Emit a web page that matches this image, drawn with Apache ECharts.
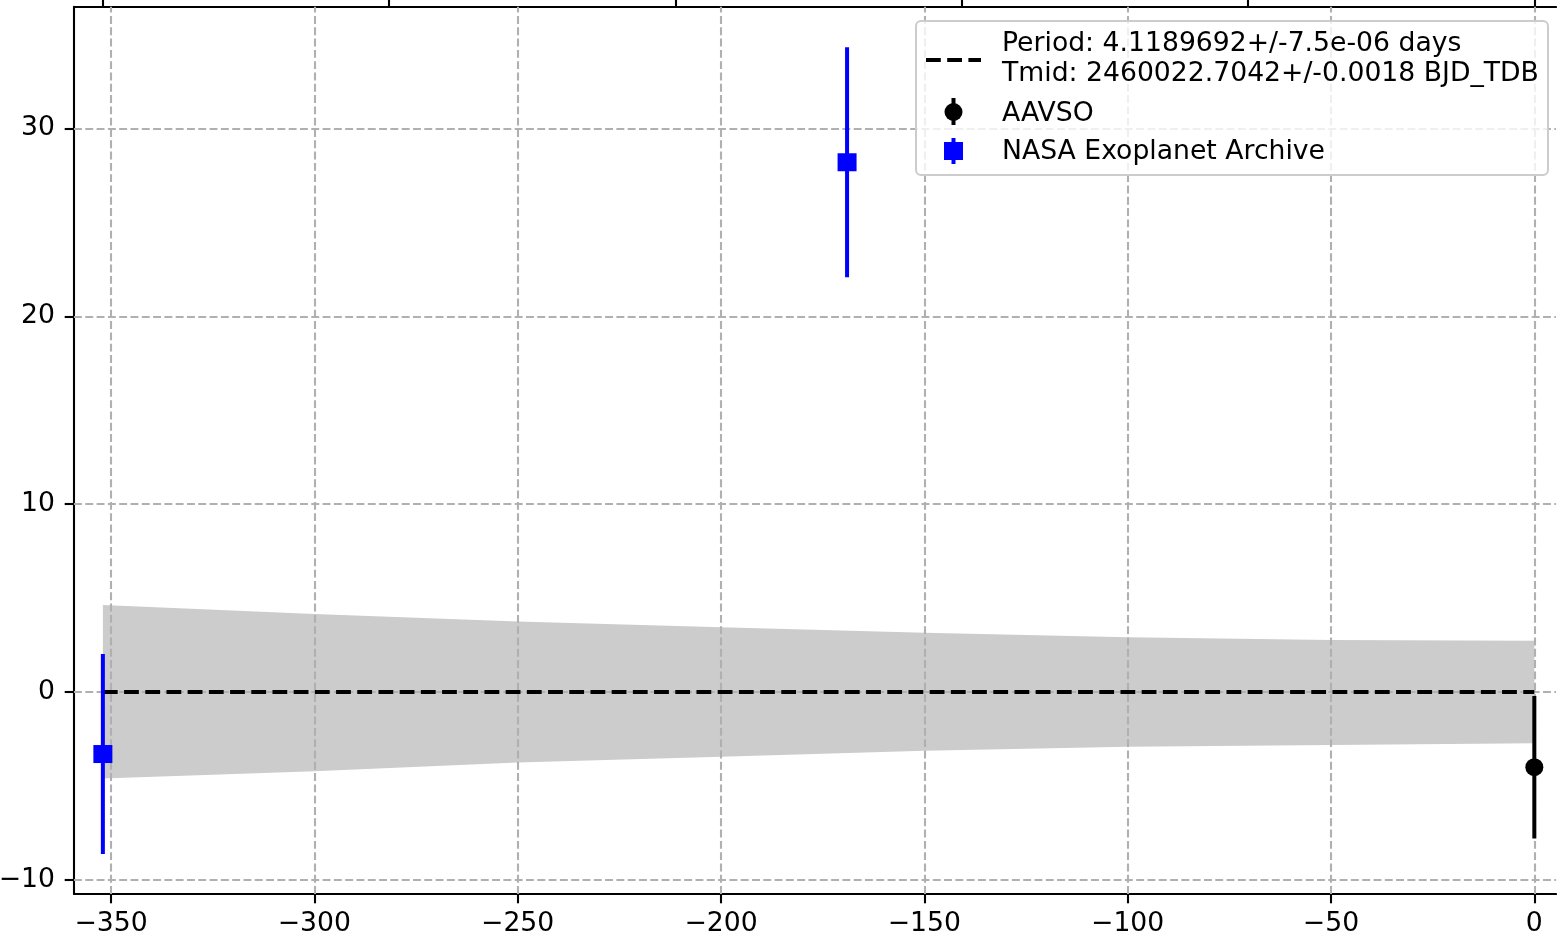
<!DOCTYPE html>
<html>
<head>
<meta charset="utf-8">
<script src="https://cdn.jsdelivr.net/npm/echarts@6/dist/echarts.min.js"></script>
<style>
html,body{margin:0;padding:0;background:#fff;}
#chart{width:1557px;height:944px;}
</style>
</head>
<body>
<div id="chart"></div>
<script>
// ---- data ----
const xTicks = [-350, -300, -250, -200, -150, -100, -50, 0];
const yTicks = [-10, 0, 10, 20, 30];
const topTicks = [-352, -281.6, -211.2, -140.8, -70.4, 0];

const bandEpochs = [-352, -300, -250, -200, -150, -100, -50, 0];
const bandUpper  = [4.63, 4.16, 3.75, 3.45, 3.16, 2.91, 2.77, 2.73];
const bandLower  = [-4.60, -4.21, -3.75, -3.45, -3.13, -2.91, -2.82, -2.73];

const modelEpochs = [-352, 0];
const modelValues = [0, 0];

const aavsoEpoch = [0];
const aavsoOC    = [-4.0];
const aavsoErr   = [3.79];

const nasaEpoch = [-352, -169];
const nasaOC    = [-3.30, 28.2];
const nasaErr   = [5.32, 6.12];

const legendLines = [
  'Period: 4.1189692+/-7.5e-06 days',
  'Tmid: 2460022.7042+/-0.0018 BJD_TDB',
  'AAVSO',
  'NASA Exoplanet Archive'
];

// ---- chart ----
const FONT = '"DejaVu Sans", sans-serif';
const FS = 26.67;
const minus = v => String(v).replace('-', '\u2212');
const gridStyle = {color: '#b0b0b0', width: 2.1, type: [7.9, 3.4]};

function errorBar(color) {
  return function (params, api) {
    const x = api.value(0);
    const p1 = api.coord([x, api.value(1)]);
    const p2 = api.coord([x, api.value(2)]);
    return {
      type: 'line',
      shape: {x1: p1[0], y1: p1[1], x2: p2[0], y2: p2[1]},
      style: {stroke: color, lineWidth: 4}
    };
  };
}

const chart = echarts.init(document.getElementById('chart'), null, {renderer: 'canvas'});

const option = {
  animation: false,
  backgroundColor: '#ffffff',
  grid: {left: 74, right: 1, top: 6.7, bottom: 50, containLabel: false, outerBoundsMode: 'none'},
  xAxis: [
    {
      type: 'value', position: 'bottom', min: -359.1, max: 5.33,
      axisLine: {show: true, onZero: false, lineStyle: {color: '#000', width: 2.1}},
      axisTick: {show: true, customValues: xTicks, length: 9.3, lineStyle: {color: '#000', width: 2.1}},
      axisLabel: {show: true, customValues: xTicks, formatter: minus, fontSize: FS, fontFamily: FONT, color: '#000', margin: 17},
      splitLine: {show: false}
    },
    {
      type: 'value', position: 'top', min: -359.1, max: 5.33,
      axisLine: {show: true, onZero: false, lineStyle: {color: '#000', width: 2.1}},
      axisTick: {show: true, customValues: topTicks, length: 9.3, lineStyle: {color: '#000', width: 2.1}},
      axisLabel: {show: false},
      splitLine: {show: false}
    }
  ],
  yAxis: [
    {
      type: 'value', min: -10.75, max: 36.48,
      axisLine: {show: true, onZero: false, lineStyle: {color: '#000', width: 2.1}},
      axisTick: {show: true, customValues: yTicks, length: 9.3, lineStyle: {color: '#000', width: 2.1}},
      axisLabel: {show: true, customValues: yTicks, formatter: minus, fontSize: FS, fontFamily: FONT, color: '#000', margin: 19},
      splitLine: {show: false}
    }
  ],
  series: [
    {
      name: 'band', type: 'custom', z: 1, silent: true,
      data: bandEpochs.map((x, i) => [x, bandUpper[i], bandLower[i]]),
      encode: {x: 0, y: [1, 2]},
      renderItem: function (params, api) {
        if (params.dataIndex !== 0) return null;
        const up = bandEpochs.map((x, i) => api.coord([x, bandUpper[i]]));
        const lo = bandEpochs.map((x, i) => api.coord([x, bandLower[i]])).reverse();
        return {type: 'polygon', shape: {points: up.concat(lo)}, style: {fill: '#cccccc'}};
      }
    },
    {
      name: 'grid', type: 'line', z: 2, data: [], silent: true,
      markLine: {
        z: 2, silent: true, symbol: ['none', 'none'], animation: false,
        label: {show: false},
        lineStyle: gridStyle,
        emphasis: {disabled: true},
        data: xTicks.map(v => ({xAxis: v})).concat(yTicks.map(v => ({yAxis: v})))
      }
    },
    {
      name: 'model', type: 'line', z: 3, silent: true,
      data: modelEpochs.map((x, i) => [x, modelValues[i]]),
      showSymbol: false, symbol: 'none',
      lineStyle: {color: '#000', width: 4, type: [14.8, 6.4]}
    },
    {
      name: 'AAVSO err', type: 'custom', z: 4, silent: true,
      data: aavsoEpoch.map((x, i) => [x, aavsoOC[i] - aavsoErr[i], aavsoOC[i] + aavsoErr[i]]),
      encode: {x: 0, y: [1, 2]},
      renderItem: errorBar('#000000')
    },
    {
      name: 'NASA err', type: 'custom', z: 4, silent: true,
      data: nasaEpoch.map((x, i) => [x, nasaOC[i] - nasaErr[i], nasaOC[i] + nasaErr[i]]),
      encode: {x: 0, y: [1, 2]},
      renderItem: errorBar('#0000ff')
    },
    {
      name: 'AAVSO', type: 'scatter', z: 5, silent: true,
      data: aavsoEpoch.map((x, i) => [x, aavsoOC[i]]),
      symbol: 'circle', symbolSize: 18,
      itemStyle: {color: '#000000', opacity: 1}
    },
    {
      name: 'NASA Exoplanet Archive', type: 'scatter', z: 5, silent: true,
      data: nasaEpoch.map((x, i) => [x, nasaOC[i]]),
      symbol: 'rect', symbolSize: [19, 18],
      itemStyle: {color: '#0000ff', opacity: 1}
    }
  ],
  graphic: [
    {type: 'rect', z: 100, shape: {x: 916, y: 21, width: 632, height: 154, r: 5},
     style: {fill: 'rgba(255,255,255,0.8)', stroke: '#cccccc', lineWidth: 2}},
    {type: 'line', z: 101, shape: {x1: 926, y1: 60, x2: 981, y2: 60},
     style: {stroke: '#000', lineWidth: 4, lineDash: [14.8, 6.4]}},
    {type: 'text', z: 101, style: {text: legendLines[0], x: 1002, y: 44, font: FS + 'px ' + FONT, fill: '#000', verticalAlign: 'middle'}},
    {type: 'text', z: 101, style: {text: legendLines[1], x: 1002, y: 74.5, font: FS + 'px ' + FONT, fill: '#000', verticalAlign: 'middle'}},
    {type: 'line', z: 101, shape: {x1: 953.5, y1: 98, x2: 953.5, y2: 125},
     style: {stroke: '#000', lineWidth: 4}},
    {type: 'circle', z: 102, shape: {cx: 953.5, cy: 112, r: 9}, style: {fill: '#000'}},
    {type: 'text', z: 101, style: {text: legendLines[2], x: 1002, y: 114, font: FS + 'px ' + FONT, fill: '#000', verticalAlign: 'middle'}},
    {type: 'line', z: 101, shape: {x1: 953.5, y1: 138, x2: 953.5, y2: 164},
     style: {stroke: '#0000ff', lineWidth: 4}},
    {type: 'rect', z: 102, shape: {x: 944, y: 142, width: 19, height: 18}, style: {fill: '#0000ff'}},
    {type: 'text', z: 101, style: {text: legendLines[3], x: 1002, y: 152.5, font: FS + 'px ' + FONT, fill: '#000', verticalAlign: 'middle'}}
  ]
};

chart.setOption(option);
</script>
</body>
</html>
